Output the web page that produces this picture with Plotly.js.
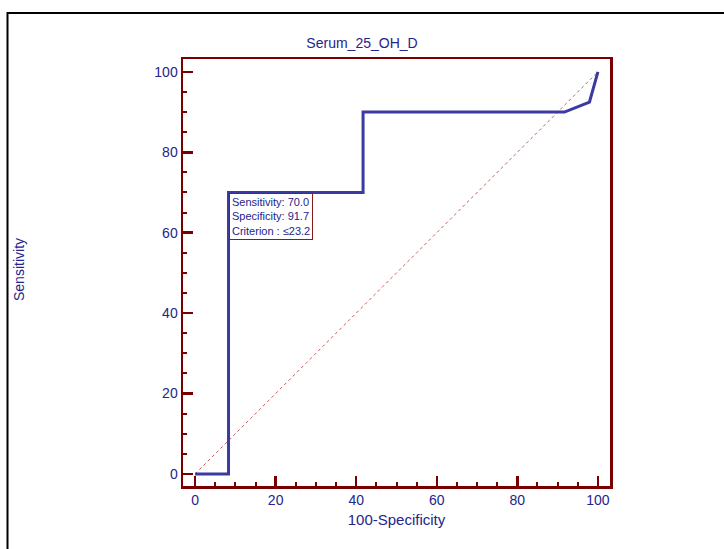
<!DOCTYPE html>
<html><head><meta charset="utf-8">
<script src="https://cdn.plot.ly/plotly-3.0.1.min.js"></script>
<style>body{margin:0;background:#fff}#c{width:724px;height:549px}</style>
</head><body><div id="c"></div>
<script>
// ROC curve points (100-Specificity, Sensitivity)
const fpr = [0, 8.3, 8.3, 41.7, 41.7, 91.7, 97.9, 100];
const tpr = [0, 0, 70, 70, 90, 90, 92.5, 100];
const diagX = [0, 100];
const diagY = [0, 100];
const xTicks = [0, 20, 40, 60, 80, 100];
const yTicks = [0, 20, 40, 60, 80, 100];
const infoLines = ["Sensitivity: 70.0", "Specificity: 91.7", "Criterion : \u226423.2"];

const W = 724, H = 549;
const L = 183, R = 610, T = 59, B = 486;
const px = x => (x - L) / (R - L);
const py = y => (B - y) / (B - T);

const axisRed = "#7a0000";
const navy = "#24248c";
const font = "Liberation Sans, Arial, sans-serif";

const traces = [
  {x: diagX, y: diagY, mode: "lines", line: {color: "#c85a5a", width: 1, dash: "dot"}, hoverinfo: "skip"},
  {x: fpr, y: tpr, mode: "lines", line: {color: "#3a3aa2", width: 3}}
];

const axisCommon = {
  showgrid: false, zeroline: false, showline: true, linecolor: axisRed, linewidth: 2.5,
  mirror: true, ticks: "inside", ticklen: 10, tickwidth: 2.5, tickcolor: axisRed,
  tickfont: {family: font, size: 14, color: navy},
  minor: {dtick: 5, ticklen: 4, tickwidth: 2, tickcolor: axisRed, ticks: "inside"},
  tickmode: "array", fixedrange: true
};

const layout = {
  width: W, height: H,
  margin: {l: L, r: W - R, t: T, b: H - B},
  paper_bgcolor: "#fff", plot_bgcolor: "#fff",
  showlegend: false,
  title: {text: "Serum_25_OH_D", font: {family: font, size: 14, color: navy}, x: 0.5, xanchor: "center", y: 1 - 43 / H, yanchor: "middle"},
  xaxis: Object.assign({}, axisCommon, {range: [-3, 103], tickvals: xTicks,
    title: {text: "100-Specificity", font: {family: font, size: 15, color: navy}, standoff: 7}}),
  yaxis: Object.assign({}, axisCommon, {range: [-3, 103.2], tickvals: yTicks}),
  annotations: [
    {xref: "paper", yref: "paper", x: px(19), y: py(270), xanchor: "center", yanchor: "middle",
     text: "Sensitivity", textangle: -90,
     showarrow: false, font: {family: font, size: 14, color: navy}},
    {xref: "x", yref: "y", x: 8.4, y: 69.8, xanchor: "left", yanchor: "top", align: "left",
     text: infoLines.join("<br>"), showarrow: false, bgcolor: "#fff",
     bordercolor: "#8a1a1a", borderwidth: 1, borderpad: 2,
     font: {family: font, size: 11, color: navy}}
  ],
  shapes: [
    {type: "rect", xref: "paper", yref: "paper", x0: px(7.5), x1: px(740), y0: py(13), y1: py(570),
     line: {color: "#000", width: 2}, layer: "below"}
  ]
};

Plotly.newPlot("c", traces, layout, {displayModeBar: false, staticPlot: true});
</script></body></html>
